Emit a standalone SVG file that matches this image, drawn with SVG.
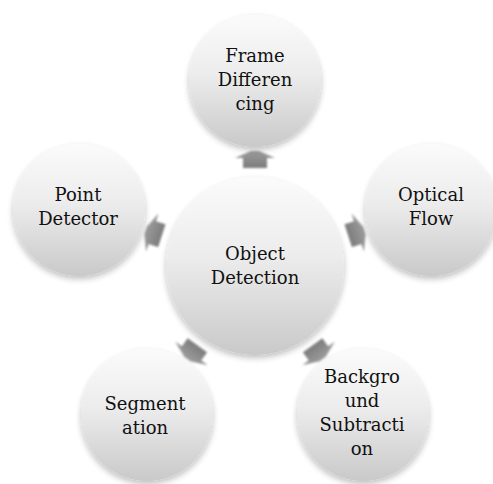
<svg xmlns="http://www.w3.org/2000/svg" width="493" height="484" viewBox="0 0 493 484">
  <defs>
    <linearGradient id="ball" x1="0" y1="0" x2="0" y2="1">
      <stop offset="0" stop-color="#fbfbfb"/>
      <stop offset="0.45" stop-color="#ececec"/>
      <stop offset="1" stop-color="#c9c9c9"/>
    </linearGradient>
    <linearGradient id="arrowFill" x1="0" y1="0" x2="0" y2="1">
      <stop offset="0" stop-color="#9c9c9c"/>
      <stop offset="1" stop-color="#7c7c7c"/>
    </linearGradient>
    <filter id="soft" x="-20%" y="-20%" width="140%" height="150%">
      <feGaussianBlur in="SourceAlpha" stdDeviation="3"/>
      <feOffset dy="3" result="b"/>
      <feComponentTransfer><feFuncA type="linear" slope="0.25"/></feComponentTransfer>
      <feMerge><feMergeNode/><feMergeNode in="SourceGraphic"/></feMerge>
    </filter>
    <filter id="blurA" x="-30%" y="-30%" width="160%" height="160%">
      <feGaussianBlur stdDeviation="0.8"/>
    </filter>
    <!-- block arrow pointing up, centred on the origin -->
    <path id="arr" d="M -12 8 L -12 -2 L -20 -2 L -4 -9 L 4 -9 L 20 -2 L 12 -2 L 12 8 Z"/>
  </defs>
  <style>
    .ball { fill: url(#ball); filter: url(#soft); }
    .lbl { font-family: 'DejaVu Serif', 'Liberation Serif', serif; font-size: 18px; fill: #111; text-anchor: middle; }
    .arrow { fill: url(#arrowFill); filter: url(#blurA); }
  </style>
  <rect width="493" height="484" fill="#ffffff"/>

  <g id="connectors">
    <use href="#arr" class="arrow" transform="rotate(0 255 266) translate(255 160)"/>
    <use href="#arr" class="arrow" transform="rotate(72 255 266) translate(255 160)"/>
    <use href="#arr" class="arrow" transform="rotate(144 255 266) translate(255 160)"/>
    <use href="#arr" class="arrow" transform="rotate(216 255 266) translate(255 160)"/>
    <use href="#arr" class="arrow" transform="rotate(288 255 266) translate(255 160)"/>
  </g>

  <g id="object-detection">
    <circle class="ball" cx="255" cy="266" r="89"/>
    <text class="lbl" x="255" y="260">Object</text>
    <text class="lbl" x="255" y="284">Detection</text>
  </g>

  <g id="frame-differencing">
    <circle class="ball" cx="255" cy="81" r="66"/>
    <text class="lbl" x="255" y="62">Frame</text>
    <text class="lbl" x="255" y="86">Differen</text>
    <text class="lbl" x="255" y="110">cing</text>
  </g>

  <g id="optical-flow">
    <circle class="ball" cx="431" cy="210" r="66"/>
    <text class="lbl" x="431" y="201">Optical</text>
    <text class="lbl" x="431" y="225">Flow</text>
  </g>

  <g id="background-subtraction">
    <circle class="ball" cx="363" cy="415" r="66"/>
    <text class="lbl" x="362" y="383">Backgro</text>
    <text class="lbl" x="362" y="407">und</text>
    <text class="lbl" x="362" y="431">Subtracti</text>
    <text class="lbl" x="362" y="455">on</text>
  </g>

  <g id="segmentation">
    <circle class="ball" cx="147" cy="415" r="66"/>
    <text class="lbl" x="145" y="410">Segment</text>
    <text class="lbl" x="145" y="434">ation</text>
  </g>

  <g id="point-detector">
    <circle class="ball" cx="79" cy="210" r="66"/>
    <text class="lbl" x="78" y="201">Point</text>
    <text class="lbl" x="78" y="225">Detector</text>
  </g>
</svg>
